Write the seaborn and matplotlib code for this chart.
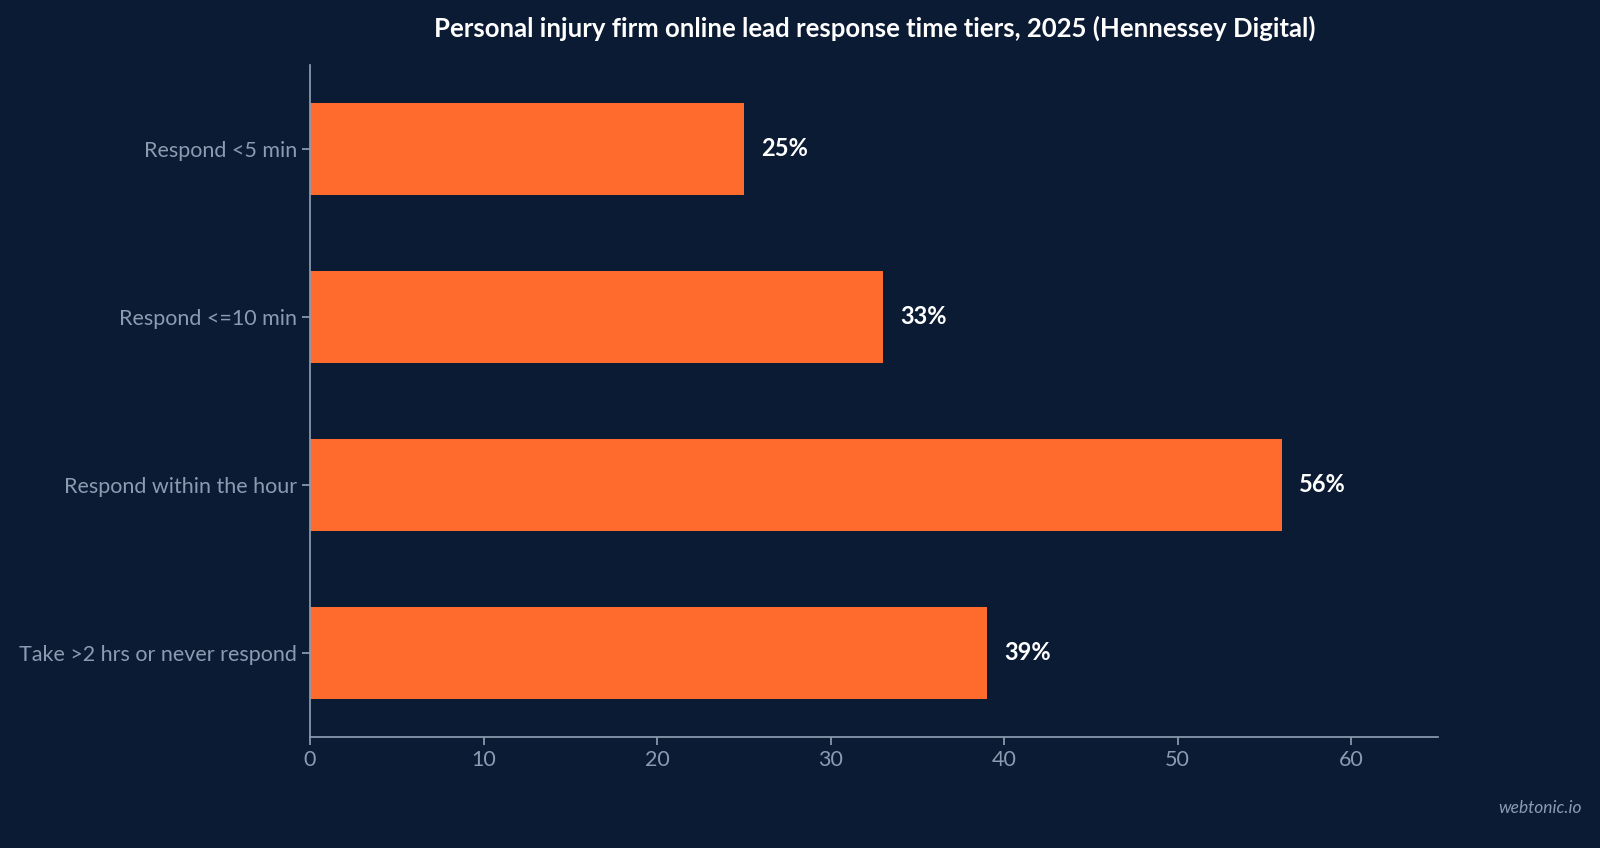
import matplotlib
matplotlib.use("Agg")
import matplotlib.pyplot as plt
import seaborn as sns
import pandas as pd

categories = ["Respond <5 min", "Respond <=10 min", "Respond within the hour", "Take >2 hrs or never respond"]
values = [25, 33, 56, 39]

bg = "#0b1b34"
bar_color = "#ff6b2d"
muted = "#8c9bb0"

sns.set_theme(style="white")
plt.rcParams["font.family"] = ["Lato", "DejaVu Sans"]

df = pd.DataFrame({"tier": categories, "pct": values})

fig = plt.figure(figsize=(16, 8.48), dpi=100, facecolor=bg)
ax = fig.add_axes([310 / 1600, 1 - 737 / 848, 1128 / 1600, 672 / 848])
ax.set_facecolor(bg)

sns.barplot(data=df, x="pct", y="tier", color=bar_color, width=0.55, saturation=1,
            linewidth=0, ax=ax)

for i, v in enumerate(values):
    ax.text(v + 1, i, f"{v}%", va="center", ha="left", color="white",
            fontsize=17, fontweight="bold")

ax.set_xlim(0, 65)
ax.set_xticks(range(0, 61, 10))
ax.set_xlabel("")
ax.set_ylabel("")
for s in ["top", "right"]:
    ax.spines[s].set_visible(False)
for s in ["left", "bottom"]:
    ax.spines[s].set_color(muted)
ax.tick_params(axis="both", colors=muted, labelsize=15.5, length=6, left=True, bottom=True)
for lab in ax.get_xticklabels() + ax.get_yticklabels():
    lab.set_color(muted)

fig.text(875 / 1600, 1 - 28 / 848, "Personal injury firm online lead response time tiers, 2025 (Hennessey Digital)",
         ha="center", va="center", color="white", fontsize=18.5, fontweight="bold")
fig.text(1582 / 1600, 1 - 808 / 848, "webtonic.io", ha="right", va="center",
         color=muted, fontsize=12.5, style="italic")

fig.savefig("out.png", dpi=100, facecolor=bg)
